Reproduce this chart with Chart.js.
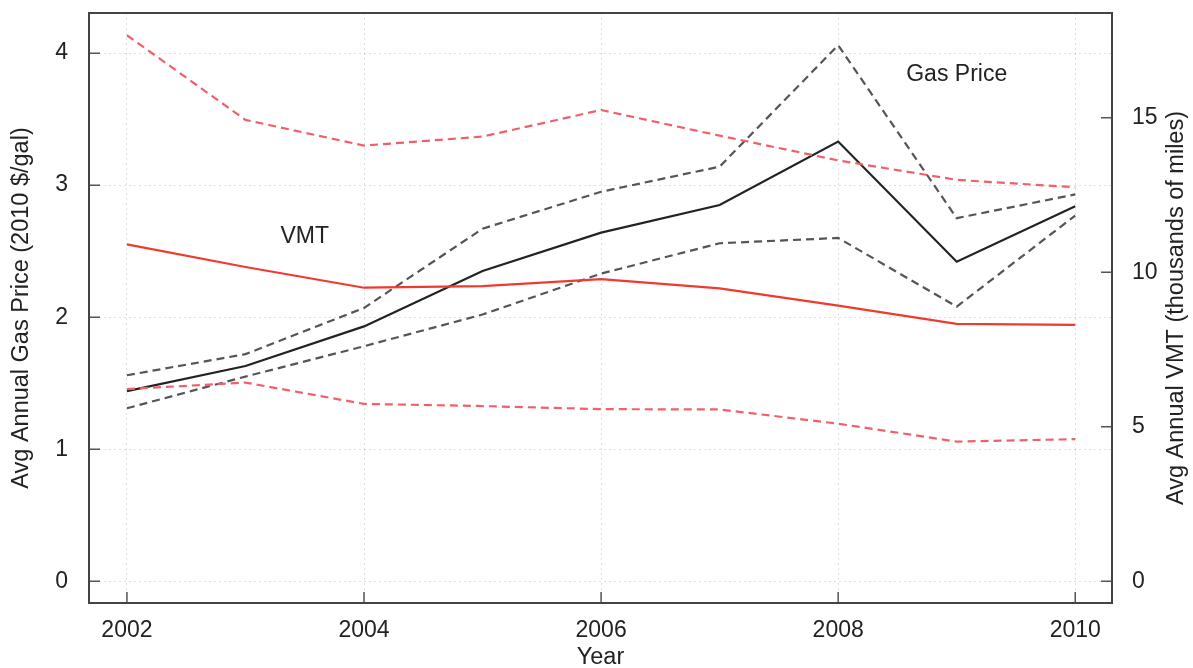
<!DOCTYPE html>
<html>
<head>
<meta charset="utf-8">
<script src="https://cdn.jsdelivr.net/npm/chart.js@4"></script>
<style>
  html, body { margin: 0; padding: 0; background: #ffffff; }
  #wrap { width: 1193px; height: 668px; }
</style>
</head>
<body>
<div id="wrap"><canvas id="c" width="1193" height="668"></canvas></div>
<script>
// ---- data ----
const years    = [2002, 2003, 2004, 2005, 2006, 2007, 2008, 2009, 2010];
const gasPrice = [1.44, 1.63, 1.93, 2.35, 2.64, 2.85, 3.33, 2.42, 2.84];
const gasHigh  = [1.56, 1.72, 2.07, 2.67, 2.95, 3.14, 4.06, 2.75, 2.93];
const gasLow   = [1.31, 1.55, 1.78, 2.02, 2.33, 2.56, 2.60, 2.08, 2.77];
const vmt      = [10.90, 10.17, 9.50, 9.55, 9.78, 9.48, 8.92, 8.33, 8.30];
const vmtHigh  = [17.67, 14.93, 14.10, 14.39, 15.25, 14.42, 13.62, 12.99, 12.75];
const vmtLow   = [6.22, 6.43, 5.74, 5.67, 5.57, 5.56, 5.10, 4.52, 4.60];

const xTicks     = [2002, 2004, 2006, 2008, 2010];
const leftTicks  = [0, 1, 2, 3, 4];
const rightTicks = [0, 5, 10, 15];

const leftTitle  = 'Avg Annual Gas Price (2010 $/gal)';
const rightTitle = 'Avg Annual VMT (thousands of miles)';
const xTitle     = 'Year';
const labelVMT   = { text: 'VMT', x: 2003.5, y: 2.61 };
const labelGas   = { text: 'Gas Price', x: 2009.0, y: 3.84 };

// ---- styling ----
const FONT = 'Liberation Sans, Arial, Helvetica, sans-serif';
const FS = 23;
const FT = 23.5;
const RED = '#ee3b2e';
const RED_D = '#f0606a';
const BLK = '#222222';
const BLK_D = '#555555';
const DASH = [8, 5];

const pts = arr => arr.map((v, i) => ({ x: years[i], y: v }));

function ds(label, arr, color, dashed, axis) {
  return {
    label, data: pts(arr), yAxisID: axis,
    borderColor: color, borderWidth: 2.2,
    borderDash: dashed ? DASH : [],
    pointRadius: 0, tension: 0, fill: false,
    borderCapStyle: 'butt', borderJoinStyle: 'miter'
  };
}

function noPad(s) { s.paddingTop = 0; s.paddingBottom = 0; s.paddingLeft = 0; s.paddingRight = 0; }

const frame = {
  id: 'frame',
  afterDraw(chart) {
    const { ctx, chartArea: a, scales } = chart;
    const x = scales.x, y = scales.y, y2 = scales.y2;
    ctx.save();
    // inward tick marks
    ctx.strokeStyle = '#555555';
    ctx.lineWidth = 1.5;
    ctx.beginPath();
    x.ticks.forEach(t => { const p = x.getPixelForValue(t.value); ctx.moveTo(p, a.bottom); ctx.lineTo(p, a.bottom - 11); });
    y.ticks.forEach(t => { const p = y.getPixelForValue(t.value); ctx.moveTo(a.left, p); ctx.lineTo(a.left + 11, p); });
    y2.ticks.forEach(t => { const p = y2.getPixelForValue(t.value); ctx.moveTo(a.right, p); ctx.lineTo(a.right - 11, p); });
    ctx.stroke();
    // box
    ctx.strokeStyle = '#444444';
    ctx.lineWidth = 2;
    ctx.strokeRect(a.left, a.top, a.right - a.left, a.bottom - a.top);
    // in-plot labels
    ctx.fillStyle = BLK;
    ctx.font = FS + 'px ' + FONT;
    ctx.textAlign = 'center';
    ctx.textBaseline = 'middle';
    ctx.fillText(labelVMT.text, x.getPixelForValue(labelVMT.x), y.getPixelForValue(labelVMT.y));
    ctx.fillText(labelGas.text, x.getPixelForValue(labelGas.x), y.getPixelForValue(labelGas.y));
    // axis titles
    ctx.font = FT + 'px ' + FONT;
    const cy = (a.top + a.bottom) / 2;
    ctx.save();
    ctx.translate(22, cy);
    ctx.rotate(-Math.PI / 2);
    ctx.fillText(leftTitle, 0, 0);
    ctx.restore();
    ctx.save();
    ctx.translate(1177, cy);
    ctx.rotate(-Math.PI / 2);
    ctx.fillText(rightTitle, 0, 0);
    ctx.restore();
    ctx.fillText(xTitle, (a.left + a.right) / 2, 658);
    ctx.restore();
  }
};

const gridCommon = { color: 'rgba(0,0,0,0.13)', lineWidth: 1, drawTicks: false };

new Chart(document.getElementById('c'), {
  type: 'line',
  data: {
    datasets: [
      ds('VMT upper', vmtHigh, RED_D, true, 'y2'),
      ds('VMT lower', vmtLow, RED_D, true, 'y2'),
      ds('VMT', vmt, RED, false, 'y2'),
      ds('Gas upper', gasHigh, BLK_D, true, 'y'),
      ds('Gas lower', gasLow, BLK_D, true, 'y'),
      ds('Gas Price', gasPrice, BLK, false, 'y')
    ]
  },
  options: {
    responsive: false,
    animation: false,
    devicePixelRatio: 1,
    layout: { padding: { top: 13, left: 0, right: 0, bottom: 0 } },
    plugins: { legend: { display: false }, tooltip: { enabled: false } },
    scales: {
      x: {
        type: 'linear', position: 'bottom', min: 2001.68, max: 2010.31,
        afterBuildTicks: s => { s.ticks = xTicks.map(v => ({ value: v })); },
        afterFit: s => { s.height = 65; noPad(s); },
        grid: gridCommon,
        border: { display: false, dash: [2, 3] },
        ticks: { padding: 14, color: BLK, font: { family: FONT, size: FS }, callback: v => String(v), maxRotation: 0, autoSkip: false }
      },
      y: {
        type: 'linear', position: 'left', min: -0.165, max: 4.304,
        afterBuildTicks: s => { s.ticks = leftTicks.map(v => ({ value: v })); },
        afterFit: s => { s.width = 89; noPad(s); },
        grid: gridCommon,
        border: { display: false, dash: [2, 3] },
        ticks: { padding: 21, color: BLK, font: { family: FONT, size: FS }, callback: v => String(v), autoSkip: false }
      },
      y2: {
        type: 'linear', position: 'right', min: -0.703, max: 18.39,
        afterBuildTicks: s => { s.ticks = rightTicks.map(v => ({ value: v })); },
        afterFit: s => { s.width = 81; noPad(s); },
        grid: { display: false, drawTicks: false },
        border: { display: false },
        ticks: { padding: 20, color: BLK, font: { family: FONT, size: FS }, callback: v => String(v), autoSkip: false }
      }
    }
  },
  plugins: [frame]
});
</script>
</body>
</html>
